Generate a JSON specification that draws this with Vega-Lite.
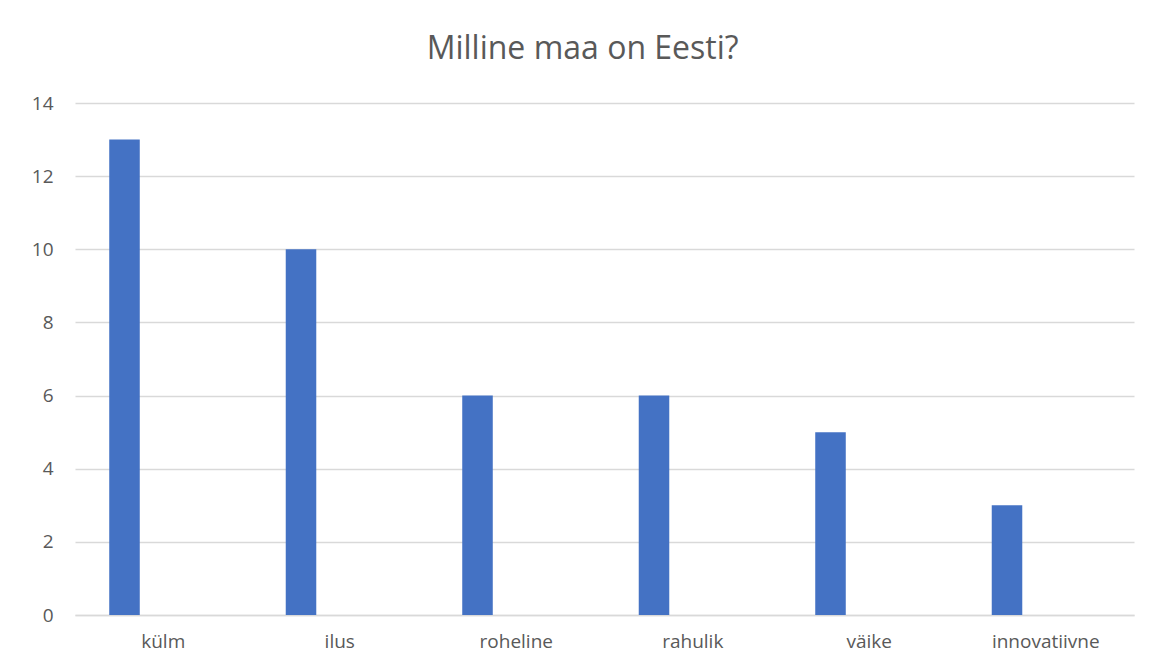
{
  "$schema": "https://vega.github.io/schema/vega-lite/v6.json",
  "width": 1059,
  "height": 512,
  "autosize": {"type": "none"},
  "padding": {"left": 75, "top": 103, "right": 31, "bottom": 54},
  "background": "white",
  "title": {
    "text": "Milline maa on Eesti?",
    "fontSize": 32,
    "font": "Open Sans",
    "fontWeight": "normal",
    "color": "#595959",
    "anchor": "middle",
    "frame": "bounds",
    "offset": 28
  },
  "data": {
    "values": [
      {"vastus": "külm", "seeria": "a", "arv": 13},
      {"vastus": "ilus", "seeria": "a", "arv": 10},
      {"vastus": "roheline", "seeria": "a", "arv": 6},
      {"vastus": "rahulik", "seeria": "a", "arv": 6},
      {"vastus": "väike", "seeria": "a", "arv": 5},
      {"vastus": "innovatiivne", "seeria": "a", "arv": 3}
    ]
  },
  "mark": {"type": "bar", "color": "#4472C4"},
  "encoding": {
    "x": {
      "field": "vastus",
      "type": "nominal",
      "sort": null,
      "scale": {"paddingInner": 0.388, "paddingOuter": 0.194},
      "axis": {
        "title": null,
        "labelAngle": 0,
        "labelFont": "Open Sans",
        "labelFontSize": 19,
        "labelColor": "#595959",
        "labelPadding": 17,
        "ticks": false,
        "domainColor": "#d9d9d9",
        "domainWidth": 1.5,
        "grid": false
      }
    },
    "xOffset": {
      "field": "seeria",
      "type": "nominal",
      "scale": {"domain": ["a", "b"], "paddingInner": 0.606, "paddingOuter": 0}
    },
    "y": {
      "field": "arv",
      "type": "quantitative",
      "scale": {"domain": [0, 14]},
      "axis": {
        "title": null,
        "values": [0, 2, 4, 6, 8, 10, 12, 14],
        "labelFont": "Open Sans",
        "labelFontSize": 19,
        "labelColor": "#595959",
        "labelPadding": 22,
        "ticks": false,
        "domain": false,
        "gridColor": "#d9d9d9",
        "gridWidth": 1.5
      }
    }
  },
  "config": {
    "view": {"stroke": null}
  }
}
